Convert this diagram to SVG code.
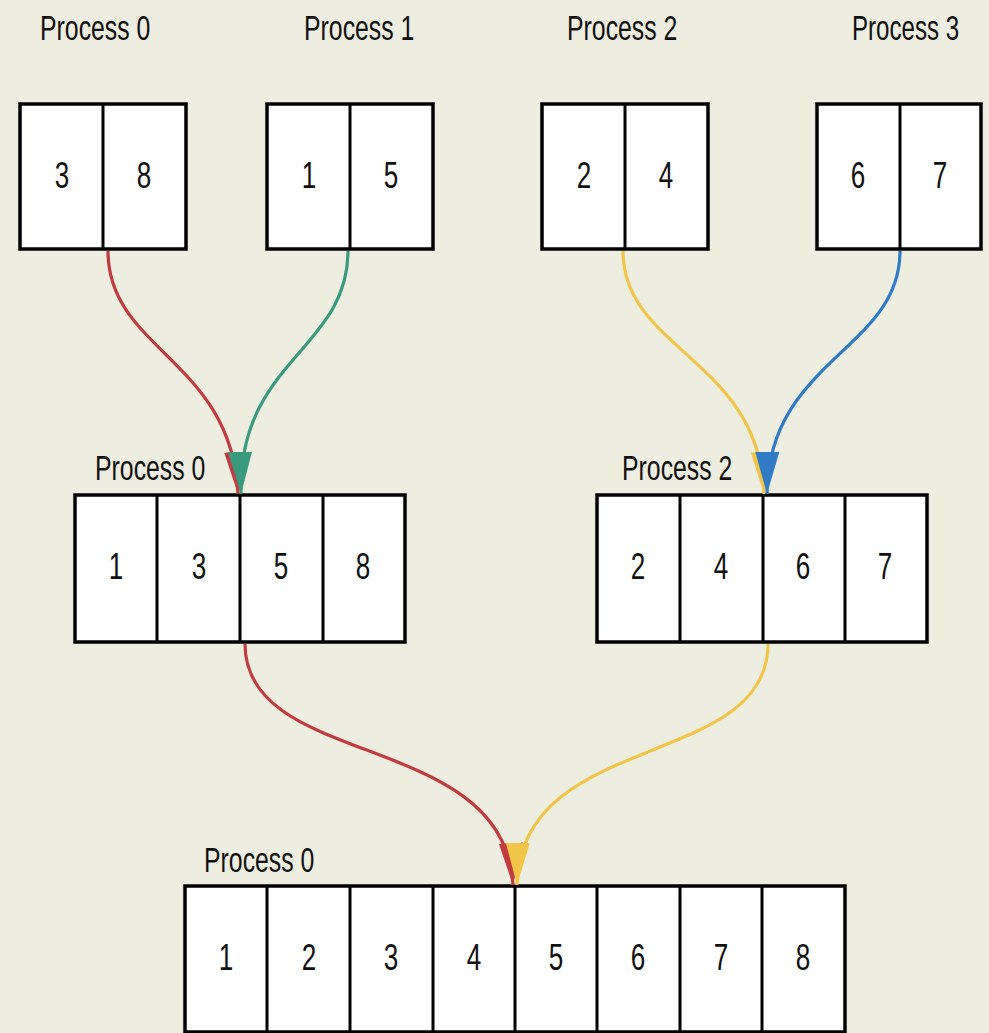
<svg xmlns="http://www.w3.org/2000/svg" width="989" height="1033" viewBox="0 0 989 1033">
<style>
.bg{fill:#edede0}
.box{fill:#fff;stroke:#000;stroke-width:3.5}
.div{stroke:#000;stroke-width:3}
.lbl{font-family:"Liberation Sans",Arial,sans-serif;font-size:36px;fill:#111}
.num{font-family:"Liberation Sans",Arial,sans-serif;font-size:36px;fill:#111;text-anchor:middle}
.c{fill:none;stroke-width:3.2}
</style>
<defs>
<marker id="aR" markerUnits="userSpaceOnUse" markerWidth="42" markerHeight="26" viewBox="0 0 42 26" refX="42" refY="13" orient="auto"><path d="M0,1 L42,13 L0,25 z" fill="#c23b3e"/></marker>
<marker id="aG" markerUnits="userSpaceOnUse" markerWidth="42" markerHeight="26" viewBox="0 0 42 26" refX="42" refY="13" orient="auto"><path d="M0,1 L42,13 L0,25 z" fill="#3a9a7e"/></marker>
<marker id="aY" markerUnits="userSpaceOnUse" markerWidth="42" markerHeight="26" viewBox="0 0 42 26" refX="42" refY="13" orient="auto"><path d="M0,1 L42,13 L0,25 z" fill="#f2c447"/></marker>
<marker id="aB" markerUnits="userSpaceOnUse" markerWidth="42" markerHeight="26" viewBox="0 0 42 26" refX="42" refY="13" orient="auto"><path d="M0,1 L42,13 L0,25 z" fill="#2f7bc5"/></marker>
</defs>
<rect class="bg" x="0" y="0" width="989" height="1033"/>

<g id="top-p0">
<text class="lbl" transform="translate(40,40) scale(0.69,1)">Process 0</text>
<rect class="box" x="20" y="104" width="166" height="145"/>
<line class="div" x1="103" y1="104" x2="103" y2="249"/>
<text class="num" x="62" y="188" textLength="14.5" lengthAdjust="spacingAndGlyphs">3</text>
<text class="num" x="144" y="188" textLength="14.5" lengthAdjust="spacingAndGlyphs">8</text>
</g>
<g id="top-p1">
<text class="lbl" transform="translate(304,40) scale(0.69,1)">Process 1</text>
<rect class="box" x="267" y="104" width="166" height="145"/>
<line class="div" x1="350" y1="104" x2="350" y2="249"/>
<text class="num" x="309" y="188" textLength="14.5" lengthAdjust="spacingAndGlyphs">1</text>
<text class="num" x="391" y="188" textLength="14.5" lengthAdjust="spacingAndGlyphs">5</text>
</g>
<g id="top-p2">
<text class="lbl" transform="translate(567,40) scale(0.69,1)">Process 2</text>
<rect class="box" x="542" y="104" width="166" height="145"/>
<line class="div" x1="625" y1="104" x2="625" y2="249"/>
<text class="num" x="584" y="188" textLength="14.5" lengthAdjust="spacingAndGlyphs">2</text>
<text class="num" x="666" y="188" textLength="14.5" lengthAdjust="spacingAndGlyphs">4</text>
</g>
<g id="top-p3">
<text class="lbl" transform="translate(852,40) scale(0.67,1)">Process 3</text>
<rect class="box" x="817" y="104" width="164" height="145"/>
<line class="div" x1="900" y1="104" x2="900" y2="249"/>
<text class="num" x="858" y="188" textLength="14.5" lengthAdjust="spacingAndGlyphs">6</text>
<text class="num" x="940" y="188" textLength="14.5" lengthAdjust="spacingAndGlyphs">7</text>
</g>

<g id="mid-p0">
<text class="lbl" transform="translate(95,480) scale(0.69,1)">Process 0</text>
<rect class="box" x="75" y="495" width="330" height="147"/>
<line class="div" x1="157" y1="495" x2="157" y2="642"/>
<line class="div" x1="240" y1="495" x2="240" y2="642"/>
<line class="div" x1="323" y1="495" x2="323" y2="642"/>
<text class="num" x="116" y="579" textLength="14.5" lengthAdjust="spacingAndGlyphs">1</text>
<text class="num" x="199" y="579" textLength="14.5" lengthAdjust="spacingAndGlyphs">3</text>
<text class="num" x="281" y="579" textLength="14.5" lengthAdjust="spacingAndGlyphs">5</text>
<text class="num" x="363" y="579" textLength="14.5" lengthAdjust="spacingAndGlyphs">8</text>
</g>
<g id="mid-p2">
<text class="lbl" transform="translate(622,480) scale(0.69,1)">Process 2</text>
<rect class="box" x="597" y="495" width="330" height="147"/>
<line class="div" x1="680" y1="495" x2="680" y2="642"/>
<line class="div" x1="763" y1="495" x2="763" y2="642"/>
<line class="div" x1="845" y1="495" x2="845" y2="642"/>
<text class="num" x="638" y="579" textLength="14.5" lengthAdjust="spacingAndGlyphs">2</text>
<text class="num" x="721" y="579" textLength="14.5" lengthAdjust="spacingAndGlyphs">4</text>
<text class="num" x="803" y="579" textLength="14.5" lengthAdjust="spacingAndGlyphs">6</text>
<text class="num" x="885" y="579" textLength="14.5" lengthAdjust="spacingAndGlyphs">7</text>
</g>

<g id="bottom-p0">
<text class="lbl" transform="translate(204,872) scale(0.69,1)">Process 0</text>
<rect class="box" x="185" y="886" width="660" height="146"/>
<line class="div" x1="267" y1="886" x2="267" y2="1032"/>
<line class="div" x1="350" y1="886" x2="350" y2="1032"/>
<line class="div" x1="433" y1="886" x2="433" y2="1032"/>
<line class="div" x1="515" y1="886" x2="515" y2="1032"/>
<line class="div" x1="597" y1="886" x2="597" y2="1032"/>
<line class="div" x1="680" y1="886" x2="680" y2="1032"/>
<line class="div" x1="762" y1="886" x2="762" y2="1032"/>
<text class="num" x="226" y="970" textLength="14.5" lengthAdjust="spacingAndGlyphs">1</text>
<text class="num" x="309" y="970" textLength="14.5" lengthAdjust="spacingAndGlyphs">2</text>
<text class="num" x="391" y="970" textLength="14.5" lengthAdjust="spacingAndGlyphs">3</text>
<text class="num" x="474" y="970" textLength="14.5" lengthAdjust="spacingAndGlyphs">4</text>
<text class="num" x="556" y="970" textLength="14.5" lengthAdjust="spacingAndGlyphs">5</text>
<text class="num" x="638" y="970" textLength="14.5" lengthAdjust="spacingAndGlyphs">6</text>
<text class="num" x="721" y="970" textLength="14.5" lengthAdjust="spacingAndGlyphs">7</text>
<text class="num" x="803" y="970" textLength="14.5" lengthAdjust="spacingAndGlyphs">8</text>
</g>

<g id="connectors">
<path class="c" stroke="#c23b3e" d="M108,251 C108,350 232,360 238,494" marker-end="url(#aR)"/>
<path class="c" stroke="#3a9a7e" d="M348,251 C348,350 238,360 241,494" marker-end="url(#aG)"/>
<path class="c" stroke="#f2c447" d="M623,251 C623,350 760,360 764,494" marker-end="url(#aY)"/>
<path class="c" stroke="#2f7bc5" d="M900,251 C900,350 768,360 767,494" marker-end="url(#aB)"/>
<path class="c" stroke="#c23b3e" d="M245,644 C245,770 505,730 513,885" marker-end="url(#aR)"/>
<path class="c" stroke="#f2c447" d="M768,644 C768,770 520,730 517,885" marker-end="url(#aY)"/>
</g>
</svg>
